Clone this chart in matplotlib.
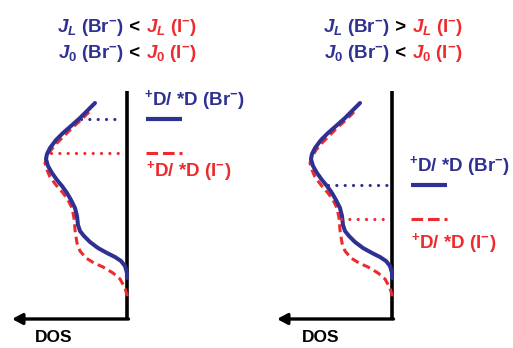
import numpy as np
import matplotlib
matplotlib.use("Agg")
import matplotlib.pyplot as plt

plt.rcParams["mathtext.fontset"] = "custom"
plt.rcParams["mathtext.it"] = "Liberation Sans:italic:bold"
plt.rcParams["mathtext.rm"] = "Liberation Sans:bold"
plt.rcParams["mathtext.bf"] = "Liberation Sans:bold"
plt.rcParams["font.family"] = ["Liberation Sans", "DejaVu Sans"]

BLUE = "#2e3192"
RED = "#ee2a2e"

# Density of states (DOS, energy) for the two halide environments
dos_br = [32, 39, 47, 56, 64, 71, 77, 80, 81, 79, 75, 70, 65, 60, 56, 52, 50,
          49, 47, 43, 37, 29, 20, 12, 6, 2, 0, 0]
e_br = [216, 209, 201, 193, 186, 179, 171, 165, 160, 153, 146, 139, 133, 126,
        119, 111, 103, 94, 88, 83, 77, 71, 66, 62, 58, 53, 46, 41]
dos_i = [38, 46, 54, 62, 70, 76, 80, 82, 80, 77, 71, 64, 59, 55, 53, 52, 50,
         47, 41, 33, 24, 14, 7, 2, 0, 0]
e_i = [207, 199, 192, 184, 176, 169, 162, 156, 149, 142, 134, 126, 119, 111,
       101, 89, 76, 68, 61, 56, 52, 46, 40, 31, 24, 18]

# Redox levels +D/*D for each panel
level_br = [200, 134]
level_i = [166, 100]
relations = [" < ", " > "]

fig = plt.figure(figsize=(5.13, 3.48), dpi=100)
W, H = 513, 348
axis_px = [127, 392]
base_px = 319
panel_edges = [(0, 256.5), (256.5, 513)]
label_gap_i = [18, 24]

axes = []
for k in range(2):
    x0, x1 = panel_edges[k]
    ax = fig.add_axes([x0 / W, 0, (x1 - x0) / W, 1])
    ax.set_xlim(axis_px[k] - x0, axis_px[k] - x1)
    ax.set_ylim(base_px - H, base_px)
    ax.axis("off")
    axes.append(ax)

eb = np.array(e_br); db = np.array(dos_br)
ei = np.array(e_i); di = np.array(dos_i)

for k, ax in enumerate(axes):
    # energy axis and DOS arrow
    ax.plot([0, 0], [0, 228], color="black", lw=2.6, solid_capstyle="butt")
    ax.annotate("", xy=(115, 0), xytext=(-1.5, 0),
                arrowprops=dict(arrowstyle="-|>,head_length=0.6,head_width=0.32",
                                color="black", lw=2.4, shrinkA=0, shrinkB=0))
    ax.text(90 if k else 92, -11, "DOS", ha="left", va="top", fontsize=12.5,
            fontweight="bold", color="black")

    # DOS curves
    ax.plot(dos_i, e_i, color=RED, lw=2.2, linestyle=(0, (2.6, 1.5)),
            solid_joinstyle="round")
    ax.plot(dos_br, e_br, color=BLUE, lw=2.9, solid_capstyle="round",
            solid_joinstyle="round")

    # redox levels projected onto the upper branch of each curve
    lb, li = level_br[k], level_i[k]
    start_b = np.interp(lb, eb[::-1], db[::-1])
    start_i = np.interp(li, ei[::-1], di[::-1])
    ax.plot([start_b - 2, 5], [lb, lb], color=BLUE, lw=2.3,
            linestyle=(0, (0.01, 2.6)), dash_capstyle="round")
    ax.plot([start_i - 2, 5], [li, li], color=RED, lw=2.3,
            linestyle=(0, (0.01, 2.6)), dash_capstyle="round")

    # level markers and labels
    ax.plot([-19, -55], [lb, lb], color=BLUE, lw=3.0, solid_capstyle="butt")
    ax.plot([-19, -55], [li, li], color=RED, lw=2.2,
            linestyle=(0, (3.8, 1.6)))
    ax.text(-17, lb + 19, "${}^{+}$D/ *D (Br$^{-}$)", color=BLUE,
            fontsize=13.5, fontweight="bold", ha="left", va="center")
    ax.text(-19, li - label_gap_i[k], "${}^{+}$D/ *D (I$^{-}$)", color=RED,
            fontsize=13.5, fontweight="bold", ha="left", va="center")

# headline relations, built from coloured pieces on a shared baseline
renderer = fig.canvas.get_renderer()
centers = [127, 393]
lines_y = [32, 58]
for k in range(2):
    rows = [
        [("$J_L$ (Br$^{-}$)", BLUE), (relations[k], "black"),
         ("$J_L$ (I$^{-}$)", RED)],
        [("$J_\\mathrm{0}$ (Br$^{-}$)", BLUE), (" < ", "black"),
         ("$J_\\mathrm{0}$ (I$^{-}$)", RED)],
    ]
    for row, yb in zip(rows, lines_y):
        items = []
        for s, c in row:
            t = fig.text(0, 1 - yb / H, s, color=c, fontsize=13.5,
                         fontweight="bold", ha="left", va="baseline")
            items.append(t)
        widths = [t.get_window_extent(renderer).width for t in items]
        x = centers[k] - sum(widths) / 2
        for t, w in zip(items, widths):
            t.set_x(x / W)
            x += w

fig.savefig("out.png", dpi=100)
